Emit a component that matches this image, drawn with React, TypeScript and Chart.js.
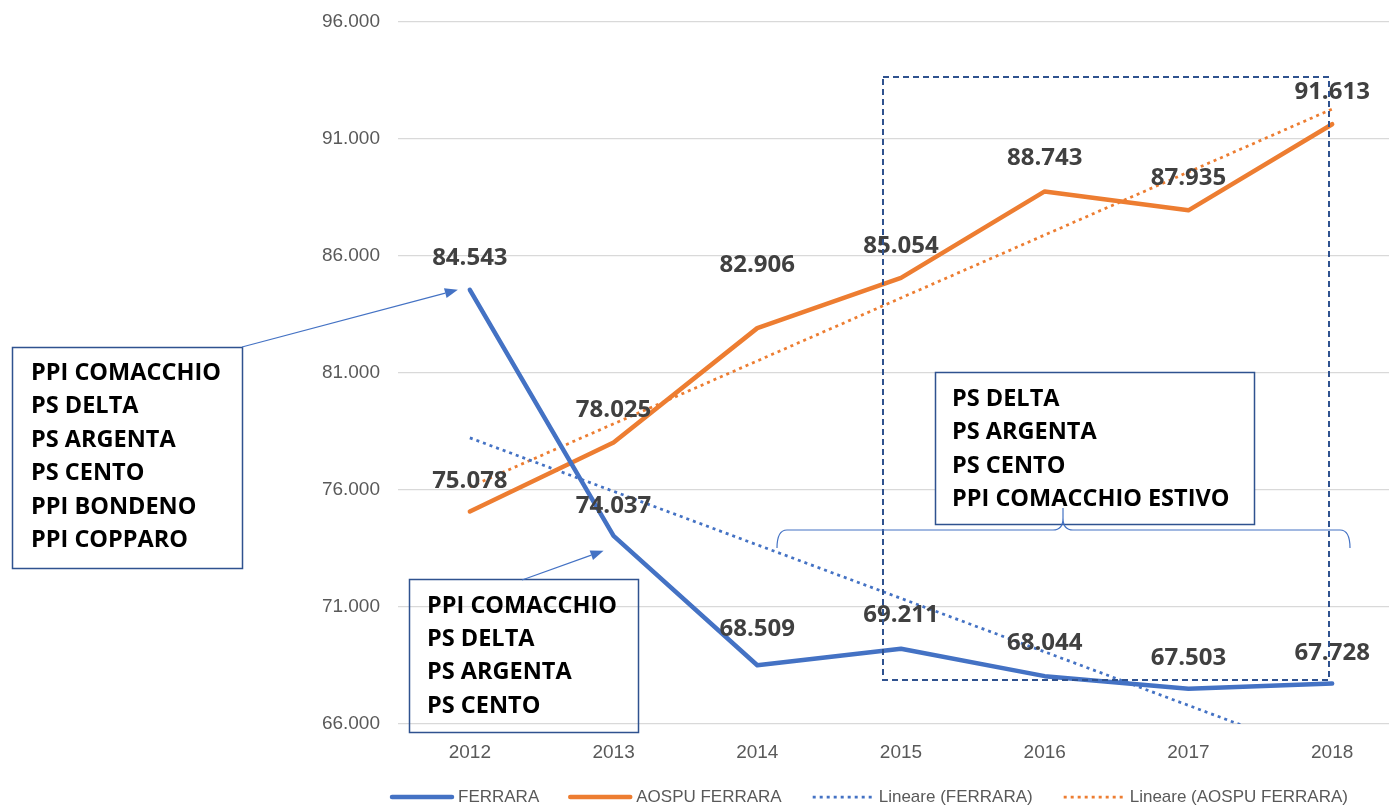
import React, { useEffect, useRef } from 'react';
import { Chart, registerables } from 'chart.js';

Chart.register(...registerables);

// ---- data ----
const years = ['2012', '2013', '2014', '2015', '2016', '2017', '2018'];
const ferrara = [84543, 74037, 68509, 69211, 68044, 67503, 67728];
const aospu = [75078, 78025, 82906, 85054, 88743, 87935, 91613];
// linear trend lines, end values
const ferraraTrend = [78220, null, null, null, null, null, 64510];
const aospuTrend = [76130, null, null, null, null, null, 92260];
const yMin = 66000;
const yMax = 96000;
const yStep = 5000;
const seriesNames = ['FERRARA', 'AOSPU FERRARA', 'Lineare (FERRARA)', 'Lineare (AOSPU FERRARA)'];
const boxLeftLines = ['PPI COMACCHIO', 'PS DELTA', 'PS ARGENTA', 'PS CENTO', 'PPI BONDENO', 'PPI COPPARO'];
const boxMidLines = ['PPI COMACCHIO', 'PS DELTA', 'PS ARGENTA', 'PS CENTO'];
const boxRightLines = ['PS DELTA', 'PS ARGENTA', 'PS CENTO', 'PPI COMACCHIO ESTIVO'];

// label lift above the point (px)
const ferraraLift = [32, 30, 36, 34, 33, 31, 30];
const aospuLift = [30, 32, 63, 32, 33, 32, 32];

const BLUE = '#4472C4';
const ORANGE = '#ED7D31';
const DARKBLUE = '#2F528F';
const AXIS_FONT = '"Liberation Sans", Arial, sans-serif';
const BOLD_FONT = '"Open Sans", "Noto Sans", sans-serif';
const DOT = [3, 4];

const fmt = (v: number) => String(Math.round(v)).replace(/\B(?=(\d{3})+(?!\d))/g, '.');

const dataLabels = {
  id: 'dataLabels',
  afterDatasetsDraw(chart: any) {
    const ctx = chart.ctx;
    ctx.save();
    ctx.font = `700 24px ${BOLD_FONT}`;
    ctx.fillStyle = '#404040';
    ctx.textAlign = 'center';
    ctx.textBaseline = 'middle';
    const sets = [
      { idx: 0, vals: ferrara, lift: ferraraLift },
      { idx: 1, vals: aospu, lift: aospuLift },
    ];
    sets.forEach((s) => {
      const meta = chart.getDatasetMeta(s.idx);
      meta.data.forEach((pt: any, i: number) => {
        ctx.fillText(fmt(s.vals[i]), pt.x, pt.y - s.lift[i]);
      });
    });
    ctx.restore();
  },
};

function arrow(ctx: CanvasRenderingContext2D, x1: number, y1: number, x2: number, y2: number) {
  ctx.beginPath();
  ctx.moveTo(x1, y1);
  const ang = Math.atan2(y2 - y1, x2 - x1);
  const L = 13;
  const bx = x2 - L * Math.cos(ang);
  const by = y2 - L * Math.sin(ang);
  ctx.lineTo(bx, by);
  ctx.stroke();
  ctx.beginPath();
  ctx.moveTo(x2, y2);
  ctx.lineTo(bx + 5 * Math.sin(ang), by - 5 * Math.cos(ang));
  ctx.lineTo(bx - 5 * Math.sin(ang), by + 5 * Math.cos(ang));
  ctx.closePath();
  ctx.fill();
}

function textBox(ctx: CanvasRenderingContext2D, x: number, y: number, w: number, h: number, lines: string[], tx: number, ty: number, step: number, fill: boolean) {
  if (fill) {
    ctx.fillStyle = '#ffffff';
    ctx.fillRect(x, y, w, h);
  }
  ctx.strokeStyle = DARKBLUE;
  ctx.lineWidth = 1.5;
  ctx.setLineDash([]);
  ctx.strokeRect(x, y, w, h);
  ctx.fillStyle = '#000000';
  ctx.font = `700 23.5px ${BOLD_FONT}`;
  ctx.textAlign = 'left';
  ctx.textBaseline = 'middle';
  lines.forEach((l, i) => ctx.fillText(l, tx, ty + i * step));
}

const annotations = {
  id: 'annotations',
  afterDraw(chart: any) {
    const ctx: CanvasRenderingContext2D = chart.ctx;
    const f0 = chart.getDatasetMeta(0).data;
    ctx.save();
    // dashed frame
    ctx.strokeStyle = DARKBLUE;
    ctx.lineWidth = 2;
    ctx.setLineDash([6, 4]);
    ctx.strokeRect(883, 77, 446, 603);
    ctx.setLineDash([]);

    // boxes
    textBox(ctx, 12.5, 347.5, 230, 221, boxLeftLines, 31, 373, 33.5, true);
    textBox(ctx, 409.5, 579.5, 229, 153, boxMidLines, 427, 606, 33.4, false);
    textBox(ctx, 935.5, 372.5, 319, 152, boxRightLines, 952, 399, 33.5, true);

    // arrows
    ctx.strokeStyle = BLUE;
    ctx.fillStyle = BLUE;
    ctx.lineWidth = 1.2;
    arrow(ctx, 242, 347, f0[0].x - 12, f0[0].y);
    arrow(ctx, 522, 580, f0[1].x - 10, f0[1].y + 15);

    // brace
    ctx.beginPath();
    ctx.lineWidth = 1.2;
    ctx.moveTo(777, 548);
    ctx.quadraticCurveTo(777, 530, 787, 530);
    ctx.lineTo(1053, 530);
    ctx.quadraticCurveTo(1063, 530, 1063, 518);
    ctx.lineTo(1063, 508);
    ctx.moveTo(1063, 518);
    ctx.quadraticCurveTo(1063, 530, 1073, 530);
    ctx.lineTo(1340, 530);
    ctx.quadraticCurveTo(1350, 530, 1350, 548);
    ctx.stroke();

    // legend
    const items = [
      { c: BLUE, dash: [] as number[], w: 4.5 },
      { c: ORANGE, dash: [] as number[], w: 4.5 },
      { c: BLUE, dash: DOT, w: 2.75 },
      { c: ORANGE, dash: DOT, w: 2.75 },
    ];
    let x = 392;
    const ly = 797;
    ctx.font = `17px ${AXIS_FONT}`;
    ctx.textBaseline = 'middle';
    ctx.textAlign = 'left';
    items.forEach((it, i) => {
      ctx.beginPath();
      ctx.strokeStyle = it.c;
      ctx.lineWidth = it.w;
      ctx.lineCap = it.dash.length ? 'butt' : 'round';
      ctx.setLineDash(it.dash);
      ctx.moveTo(x, ly);
      ctx.lineTo(x + 60, ly);
      ctx.stroke();
      ctx.setLineDash([]);
      x += 66;
      ctx.fillStyle = '#595959';
      ctx.fillText(seriesNames[i], x, ly);
      x += ctx.measureText(seriesNames[i]).width + 31;
    });
    ctx.restore();
  },
};

export default function App() {
  const ref = useRef<HTMLCanvasElement | null>(null);
  useEffect(() => {
    document.body.style.margin = '0';
    const chart = new Chart(ref.current as HTMLCanvasElement, {
      type: 'line',
      data: {
        labels: years,
        datasets: [
          {
            label: seriesNames[0],
            data: ferrara,
            borderColor: BLUE,
            backgroundColor: BLUE,
            borderWidth: 4.5,
            pointRadius: 0,
            borderJoinStyle: 'round',
            borderCapStyle: 'round',
            tension: 0,
          },
          {
            label: seriesNames[1],
            data: aospu,
            borderColor: ORANGE,
            backgroundColor: ORANGE,
            borderWidth: 4.5,
            pointRadius: 0,
            borderJoinStyle: 'round',
            borderCapStyle: 'round',
            tension: 0,
          },
          {
            label: seriesNames[2],
            data: ferraraTrend,
            borderColor: BLUE,
            borderWidth: 2.75,
            borderDash: DOT,
            pointRadius: 0,
            spanGaps: true,
          },
          {
            label: seriesNames[3],
            data: aospuTrend,
            borderColor: ORANGE,
            borderWidth: 2.75,
            borderDash: DOT,
            pointRadius: 0,
            spanGaps: true,
          },
        ],
      },
      options: {
        responsive: false,
        animation: false,
        layout: { padding: { top: 21.5, right: 6, left: 0, bottom: 0 } },
        plugins: { legend: { display: false }, tooltip: { enabled: false } },
        scales: {
          x: {
            offset: true,
            grid: { display: false, drawTicks: false, offset: true },
            border: { display: false },
            ticks: { color: '#595959', font: { family: AXIS_FONT, size: 19 }, padding: 17 },
            afterFit: (s: any) => {
              s.height = 82;
            },
          },
          y: {
            min: yMin,
            max: yMax,
            ticks: {
              stepSize: yStep,
              color: '#595959',
              font: { family: AXIS_FONT, size: 19 },
              padding: 0,
              callback: (v: any) => fmt(Number(v)),
            },
            grid: { color: '#D9D9D9', lineWidth: 1.3, drawTicks: true, tickLength: 18, tickColor: 'rgba(0,0,0,0)' },
            border: { display: false },
            afterFit: (s: any) => {
              s.width = 398;
            },
          },
        },
      },
      plugins: [dataLabels, annotations],
    } as any);
    return () => chart.destroy();
  }, []);
  return (
    <div style={{ position: 'fixed', left: 0, top: 0, width: 1389, height: 806, overflow: 'hidden', background: '#fff' }}>
      <canvas ref={ref} width={1410} height={806} style={{ display: 'block' }} />
    </div>
  );
}
